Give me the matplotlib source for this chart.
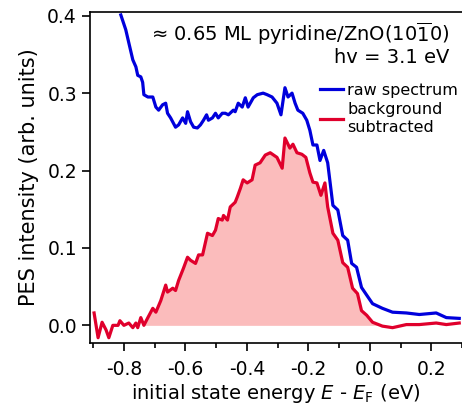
import numpy as np
import matplotlib
matplotlib.use("Agg")
import matplotlib.pyplot as plt
from matplotlib.ticker import MultipleLocator

plt.rcParams['font.family'] = ['DejaVu Sans']
plt.rcParams['mathtext.fontset'] = 'dejavusans'

# raw spectrum
raw_x = [-0.810, -0.794, -0.784, -0.771, -0.761, -0.755, -0.745, -0.739, -0.735, -0.722,
         -0.706, -0.696, -0.687, -0.674, -0.664, -0.658, -0.648, -0.632, -0.622, -0.609,
         -0.599, -0.593, -0.583, -0.573, -0.561, -0.551, -0.541, -0.531, -0.525, -0.512,
         -0.502, -0.493, -0.480, -0.470, -0.460, -0.444, -0.438, -0.428, -0.415, -0.405,
         -0.396, -0.379, -0.366, -0.347, -0.334, -0.318, -0.302, -0.289, -0.276, -0.266,
         -0.253, -0.243, -0.234, -0.218, -0.205, -0.195, -0.185, -0.172, -0.162, -0.150,
         -0.137, -0.120, -0.104, -0.088, -0.072, -0.059, -0.043, -0.027, -0.010, 0.009,
         0.041, 0.074, 0.119, 0.161, 0.216, 0.249, 0.291]
raw_y = [0.401, 0.382, 0.365, 0.343, 0.334, 0.323, 0.321, 0.314, 0.298, 0.295,
         0.295, 0.282, 0.278, 0.285, 0.287, 0.274, 0.268, 0.256, 0.259, 0.268,
         0.261, 0.276, 0.263, 0.256, 0.255, 0.259, 0.265, 0.272, 0.265, 0.268,
         0.274, 0.268, 0.274, 0.274, 0.272, 0.278, 0.276, 0.287, 0.282, 0.294,
         0.282, 0.294, 0.298, 0.300, 0.298, 0.295, 0.287, 0.272, 0.307, 0.295,
         0.300, 0.287, 0.278, 0.274, 0.265, 0.252, 0.233, 0.233, 0.213, 0.226,
         0.210, 0.155, 0.149, 0.116, 0.110, 0.080, 0.075, 0.049, 0.039, 0.028,
         0.022, 0.017, 0.016, 0.014, 0.016, 0.010, 0.009]

# background subtracted spectrum
bg_x = [-0.897, -0.884, -0.871, -0.858, -0.849, -0.836, -0.819, -0.813, -0.800, -0.784,
        -0.771, -0.761, -0.755, -0.745, -0.735, -0.722, -0.706, -0.696, -0.680, -0.664,
        -0.658, -0.641, -0.632, -0.622, -0.606, -0.593, -0.583, -0.567, -0.557, -0.544,
        -0.528, -0.512, -0.502, -0.493, -0.480, -0.476, -0.463, -0.454, -0.438, -0.431,
        -0.421, -0.412, -0.399, -0.383, -0.373, -0.357, -0.340, -0.324, -0.302, -0.285,
        -0.276, -0.260, -0.250, -0.237, -0.221, -0.208, -0.195, -0.185, -0.172, -0.159,
        -0.146, -0.137, -0.120, -0.104, -0.088, -0.072, -0.056, -0.040, -0.027, -0.010,
        0.009, 0.041, 0.074, 0.119, 0.161, 0.216, 0.249, 0.291]
bg_y = [0.016, -0.016, 0.004, -0.006, -0.016, 0.000, 0.000, 0.006, 0.000, 0.003,
        -0.003, 0.003, -0.003, 0.010, 0.000, 0.010, 0.022, 0.017, 0.032, 0.052,
        0.043, 0.048, 0.045, 0.058, 0.074, 0.088, 0.084, 0.080, 0.091, 0.091,
        0.119, 0.116, 0.123, 0.138, 0.136, 0.142, 0.136, 0.153, 0.159, 0.166,
        0.177, 0.188, 0.184, 0.188, 0.207, 0.210, 0.220, 0.223, 0.217, 0.203,
        0.242, 0.229, 0.234, 0.223, 0.221, 0.217, 0.197, 0.185, 0.184, 0.168,
        0.184, 0.153, 0.119, 0.110, 0.081, 0.075, 0.048, 0.041, 0.019, 0.013,
        0.004, -0.001, -0.003, 0.001, 0.001, 0.003, 0.001, 0.003]

blue = '#0000dc'
red = '#e0002c'
pink = '#fbbcbc'

fig = plt.figure(figsize=(4.62, 4.09), dpi=100)
ax = fig.add_axes([0.195, 0.161, 0.805, 0.81])

bx = np.array(bg_x)
by = np.array(bg_y)
mask = (bx >= -0.735) & (bx <= 0.01)
ax.fill_between(bx, 0, np.clip(by, 0, None), where=mask, color=pink, lw=0, interpolate=True)

ax.plot(raw_x, raw_y, color=blue, lw=2.3, label='raw spectrum')
ax.plot(bg_x, bg_y, color=red, lw=2.3, label='background\nsubtracted')

ax.set_xlim(-0.91, 0.3)
ax.set_ylim(-0.023, 0.405)
ax.xaxis.set_major_locator(MultipleLocator(0.2))
ax.xaxis.set_minor_locator(MultipleLocator(0.1))
ax.yaxis.set_major_locator(MultipleLocator(0.1))
ax.xaxis.set_major_formatter(plt.FuncFormatter(lambda v, p: f'{v:.1f}'.replace('-0.0', '0.0')))
ax.yaxis.set_major_formatter(plt.FuncFormatter(lambda v, p: f'{v:.1f}'))

ax.spines['right'].set_visible(False)
for s in ['left', 'bottom', 'top']:
    ax.spines[s].set_linewidth(1.2)
ax.tick_params(which='major', direction='out', length=6, width=1.2, labelsize=13.5)
ax.tick_params(which='minor', direction='out', length=3.5, width=1.2)
ax.tick_params(axis='x', which='both', top=False, pad=6)

ax.set_ylabel('PES intensity (arb. units)', fontsize=15, labelpad=6)
ax.set_xlabel(r'initial state energy $E$ - $E_{\mathrm{F}}$ (eV)', fontsize=14, labelpad=2)

ax.text(0.965, 0.975, r'≈ 0.65 ML pyridine/ZnO(10$\overline{1}$0)', transform=ax.transAxes,
        ha='right', va='top', fontsize=14)
ax.text(0.965, 0.89, 'hv = 3.1 eV', transform=ax.transAxes, ha='right', va='top', fontsize=14)

ax.legend(loc='upper right', bbox_to_anchor=(1.02, 0.82), frameon=False, fontsize=11.5,
          handlelength=1.4, handletextpad=0.3, labelspacing=0.3, borderpad=0.2)

fig.savefig('out.png', dpi=100)
